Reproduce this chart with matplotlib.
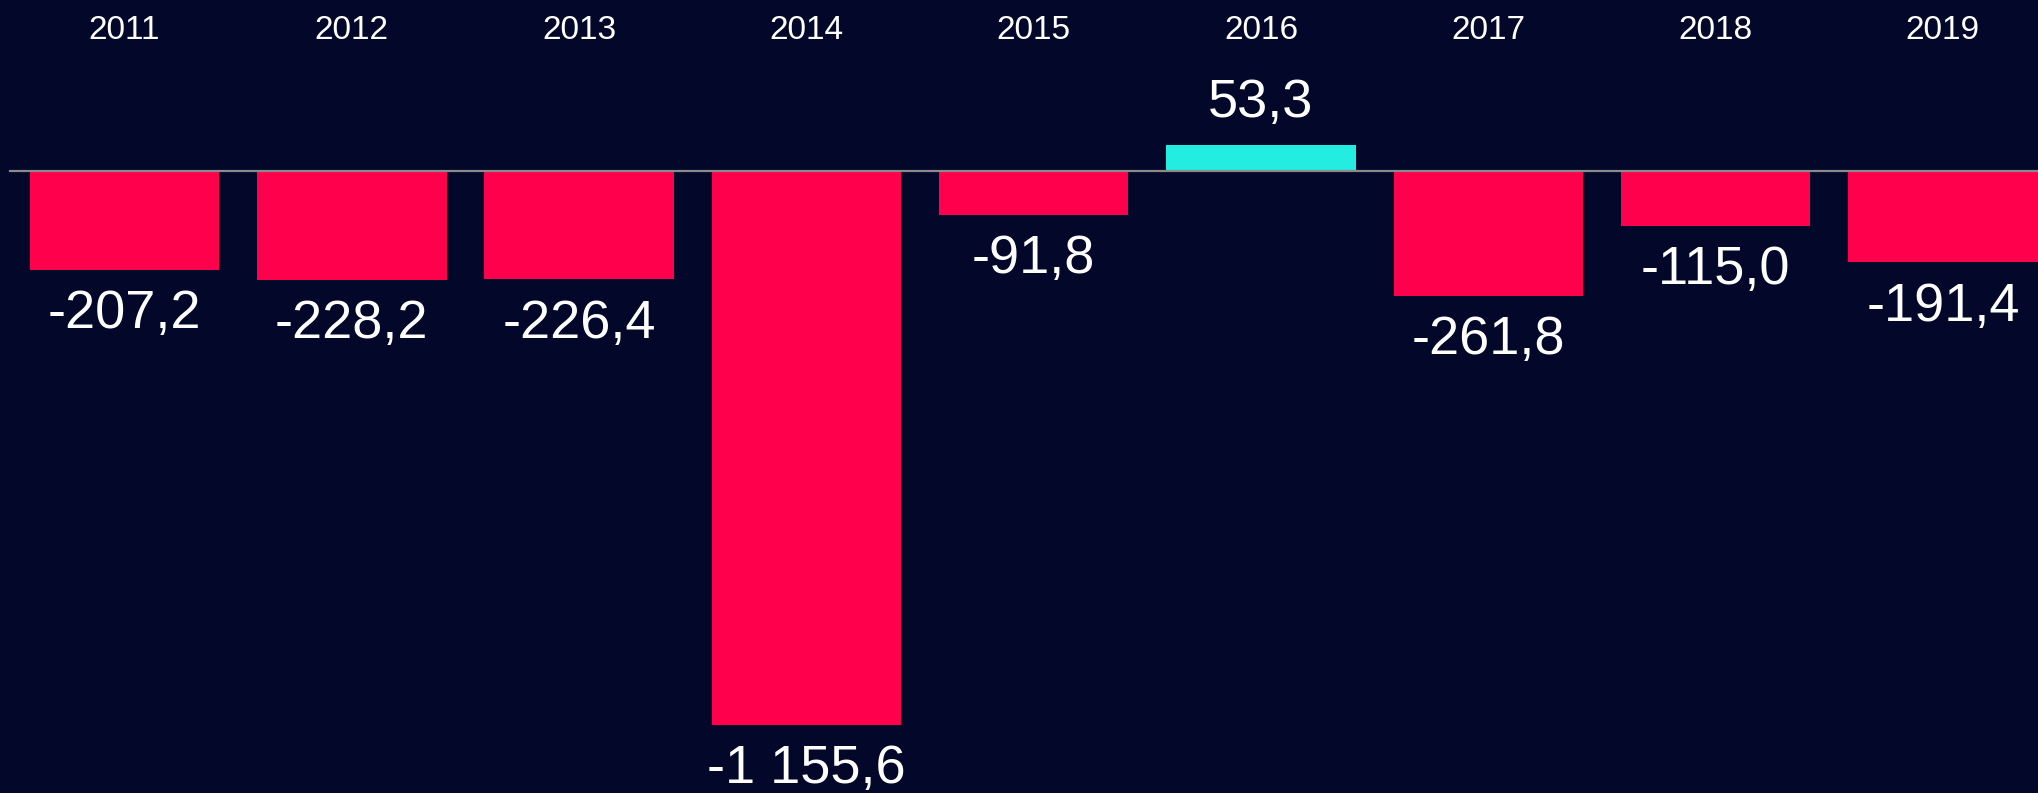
import numpy as np
import matplotlib.pyplot as plt
import matplotlib.transforms as mtransforms

# Data
years = ['2011', '2012', '2013', '2014', '2015', '2016', '2017', '2018', '2019']
values = [-207.2, -228.2, -226.4, -1155.6, -91.8, 53.3, -261.8, -115.0, -191.4]
value_labels = ['-207,2', '-228,2', '-226,4', '-1 155,6', '-91,8', '53,3',
                '-261,8', '-115,0', '-191,4']

# Style
bg = '#03072A'
neg_color = '#FF004D'
pos_color = '#22EDE0'
zero_color = '#8A8A8A'
plt.rcParams['font.family'] = ['Liberation Sans', 'DejaVu Sans']

W, H, dpi = 2038, 793, 100
fig = plt.figure(figsize=(W / dpi, H / dpi), dpi=dpi, facecolor=bg)
ax = fig.add_axes([0, 0, 1, 1], facecolor=bg)

x = np.arange(len(years))
colors = [pos_color if v > 0 else neg_color for v in values]
ax.bar(x, values, width=0.834, color=colors, zorder=2)

# Scales: pixel layout of the reference
px_per_cat = 227.3
x0_px = 124.5
ax.set_xlim(-x0_px / px_per_cat, (W - x0_px) / px_per_cat)
px_per_unit = 0.4795
zero_px = 170.5
ax.set_ylim(-(H - zero_px) / px_per_unit, zero_px / px_per_unit)

ax.axhline(0, xmin=10 / W, xmax=1, color=zero_color, linewidth=1.6, zorder=3)

# Value labels
for xi, v, lab in zip(x, values, value_labels):
    if v < 0:
        ax.annotate(lab, (xi, v), xytext=(0, -14), textcoords='offset points',
                    ha='center', va='top', color='white', fontsize=39)
    else:
        ax.annotate(lab, (xi, v), xytext=(0, 12), textcoords='offset points',
                    ha='center', va='bottom', color='white', fontsize=39)

# Year labels along the top
trans = mtransforms.blended_transform_factory(ax.transData, ax.transAxes)
for xi, yr in zip(x, years):
    ax.text(xi, 1 - 30.5 / H, yr, transform=trans, ha='center', va='center',
            color='white', fontsize=24)

ax.axis('off')
fig.savefig('out.png', dpi=dpi, facecolor=bg)
